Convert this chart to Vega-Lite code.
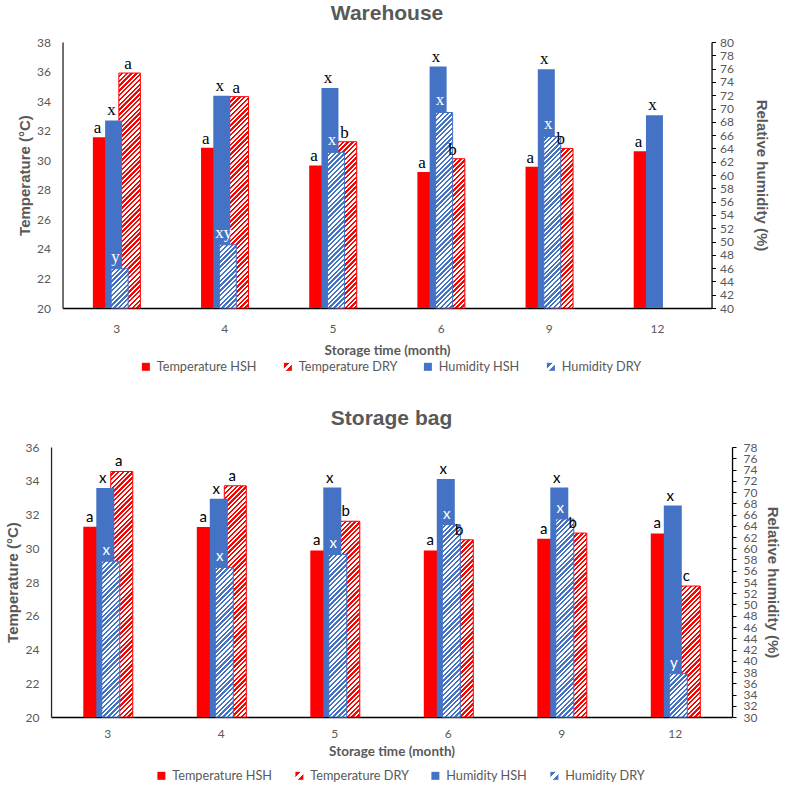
{
  "$schema": "https://vega.github.io/schema/vega-lite/v6.json",
  "background": "white",
  "padding": {"left": 5, "right": 5, "top": 3, "bottom": 0},
  "params": [
    {
      "name": "hatchStops",
      "value": [
        {"offset":0,"color":"#fff"},{"offset":0.008,"color":"#fff"},{"offset":0.008,"color":"#fff0"},{"offset":0.016,"color":"#fff0"},
        {"offset":0.016,"color":"#fff"},{"offset":0.024,"color":"#fff"},{"offset":0.024,"color":"#fff0"},{"offset":0.032,"color":"#fff0"},
        {"offset":0.032,"color":"#fff"},{"offset":0.04,"color":"#fff"},{"offset":0.04,"color":"#fff0"},{"offset":0.048,"color":"#fff0"},
        {"offset":0.048,"color":"#fff"},{"offset":0.056,"color":"#fff"},{"offset":0.056,"color":"#fff0"},{"offset":0.064,"color":"#fff0"},
        {"offset":0.064,"color":"#fff"},{"offset":0.072,"color":"#fff"},{"offset":0.072,"color":"#fff0"},{"offset":0.08,"color":"#fff0"},
        {"offset":0.08,"color":"#fff"},{"offset":0.088,"color":"#fff"},{"offset":0.088,"color":"#fff0"},{"offset":0.096,"color":"#fff0"},
        {"offset":0.096,"color":"#fff"},{"offset":0.104,"color":"#fff"},{"offset":0.104,"color":"#fff0"},{"offset":0.112,"color":"#fff0"},
        {"offset":0.112,"color":"#fff"},{"offset":0.12,"color":"#fff"},{"offset":0.12,"color":"#fff0"},{"offset":0.128,"color":"#fff0"},
        {"offset":0.128,"color":"#fff"},{"offset":0.136,"color":"#fff"},{"offset":0.136,"color":"#fff0"},{"offset":0.144,"color":"#fff0"},
        {"offset":0.144,"color":"#fff"},{"offset":0.152,"color":"#fff"},{"offset":0.152,"color":"#fff0"},{"offset":0.16,"color":"#fff0"},
        {"offset":0.16,"color":"#fff"},{"offset":0.168,"color":"#fff"},{"offset":0.168,"color":"#fff0"},{"offset":0.176,"color":"#fff0"},
        {"offset":0.176,"color":"#fff"},{"offset":0.184,"color":"#fff"},{"offset":0.184,"color":"#fff0"},{"offset":0.192,"color":"#fff0"},
        {"offset":0.192,"color":"#fff"},{"offset":0.2,"color":"#fff"},{"offset":0.2,"color":"#fff0"},{"offset":0.208,"color":"#fff0"},
        {"offset":0.208,"color":"#fff"},{"offset":0.216,"color":"#fff"},{"offset":0.216,"color":"#fff0"},{"offset":0.224,"color":"#fff0"},
        {"offset":0.224,"color":"#fff"},{"offset":0.232,"color":"#fff"},{"offset":0.232,"color":"#fff0"},{"offset":0.24,"color":"#fff0"},
        {"offset":0.24,"color":"#fff"},{"offset":0.248,"color":"#fff"},{"offset":0.248,"color":"#fff0"},{"offset":0.256,"color":"#fff0"},
        {"offset":0.256,"color":"#fff"},{"offset":0.264,"color":"#fff"},{"offset":0.264,"color":"#fff0"},{"offset":0.272,"color":"#fff0"},
        {"offset":0.272,"color":"#fff"},{"offset":0.28,"color":"#fff"},{"offset":0.28,"color":"#fff0"},{"offset":0.288,"color":"#fff0"},
        {"offset":0.288,"color":"#fff"},{"offset":0.296,"color":"#fff"},{"offset":0.296,"color":"#fff0"},{"offset":0.304,"color":"#fff0"},
        {"offset":0.304,"color":"#fff"},{"offset":0.312,"color":"#fff"},{"offset":0.312,"color":"#fff0"},{"offset":0.32,"color":"#fff0"},
        {"offset":0.32,"color":"#fff"},{"offset":0.328,"color":"#fff"},{"offset":0.328,"color":"#fff0"},{"offset":0.336,"color":"#fff0"},
        {"offset":0.336,"color":"#fff"},{"offset":0.344,"color":"#fff"},{"offset":0.344,"color":"#fff0"},{"offset":0.352,"color":"#fff0"},
        {"offset":0.352,"color":"#fff"},{"offset":0.36,"color":"#fff"},{"offset":0.36,"color":"#fff0"},{"offset":0.368,"color":"#fff0"},
        {"offset":0.368,"color":"#fff"},{"offset":0.376,"color":"#fff"},{"offset":0.376,"color":"#fff0"},{"offset":0.384,"color":"#fff0"},
        {"offset":0.384,"color":"#fff"},{"offset":0.392,"color":"#fff"},{"offset":0.392,"color":"#fff0"},{"offset":0.4,"color":"#fff0"},
        {"offset":0.4,"color":"#fff"},{"offset":0.408,"color":"#fff"},{"offset":0.408,"color":"#fff0"},{"offset":0.416,"color":"#fff0"},
        {"offset":0.416,"color":"#fff"},{"offset":0.424,"color":"#fff"},{"offset":0.424,"color":"#fff0"},{"offset":0.432,"color":"#fff0"},
        {"offset":0.432,"color":"#fff"},{"offset":0.44,"color":"#fff"},{"offset":0.44,"color":"#fff0"},{"offset":0.448,"color":"#fff0"},
        {"offset":0.448,"color":"#fff"},{"offset":0.456,"color":"#fff"},{"offset":0.456,"color":"#fff0"},{"offset":0.464,"color":"#fff0"},
        {"offset":0.464,"color":"#fff"},{"offset":0.472,"color":"#fff"},{"offset":0.472,"color":"#fff0"},{"offset":0.48,"color":"#fff0"},
        {"offset":0.48,"color":"#fff"},{"offset":0.488,"color":"#fff"},{"offset":0.488,"color":"#fff0"},{"offset":0.496,"color":"#fff0"},
        {"offset":0.496,"color":"#fff"},{"offset":0.504,"color":"#fff"},{"offset":0.504,"color":"#fff0"},{"offset":0.512,"color":"#fff0"},
        {"offset":0.512,"color":"#fff"},{"offset":0.52,"color":"#fff"},{"offset":0.52,"color":"#fff0"},{"offset":0.528,"color":"#fff0"},
        {"offset":0.528,"color":"#fff"},{"offset":0.536,"color":"#fff"},{"offset":0.536,"color":"#fff0"},{"offset":0.544,"color":"#fff0"},
        {"offset":0.544,"color":"#fff"},{"offset":0.552,"color":"#fff"},{"offset":0.552,"color":"#fff0"},{"offset":0.56,"color":"#fff0"},
        {"offset":0.56,"color":"#fff"},{"offset":0.568,"color":"#fff"},{"offset":0.568,"color":"#fff0"},{"offset":0.576,"color":"#fff0"},
        {"offset":0.576,"color":"#fff"},{"offset":0.584,"color":"#fff"},{"offset":0.584,"color":"#fff0"},{"offset":0.592,"color":"#fff0"},
        {"offset":0.592,"color":"#fff"},{"offset":0.6,"color":"#fff"},{"offset":0.6,"color":"#fff0"},{"offset":0.608,"color":"#fff0"},
        {"offset":0.608,"color":"#fff"},{"offset":0.616,"color":"#fff"},{"offset":0.616,"color":"#fff0"},{"offset":0.624,"color":"#fff0"},
        {"offset":0.624,"color":"#fff"},{"offset":0.632,"color":"#fff"},{"offset":0.632,"color":"#fff0"},{"offset":0.64,"color":"#fff0"},
        {"offset":0.64,"color":"#fff"},{"offset":0.648,"color":"#fff"},{"offset":0.648,"color":"#fff0"},{"offset":0.656,"color":"#fff0"},
        {"offset":0.656,"color":"#fff"},{"offset":0.664,"color":"#fff"},{"offset":0.664,"color":"#fff0"},{"offset":0.672,"color":"#fff0"},
        {"offset":0.672,"color":"#fff"},{"offset":0.68,"color":"#fff"},{"offset":0.68,"color":"#fff0"},{"offset":0.688,"color":"#fff0"},
        {"offset":0.688,"color":"#fff"},{"offset":0.696,"color":"#fff"},{"offset":0.696,"color":"#fff0"},{"offset":0.704,"color":"#fff0"},
        {"offset":0.704,"color":"#fff"},{"offset":0.712,"color":"#fff"},{"offset":0.712,"color":"#fff0"},{"offset":0.72,"color":"#fff0"},
        {"offset":0.72,"color":"#fff"},{"offset":0.728,"color":"#fff"},{"offset":0.728,"color":"#fff0"},{"offset":0.736,"color":"#fff0"},
        {"offset":0.736,"color":"#fff"},{"offset":0.744,"color":"#fff"},{"offset":0.744,"color":"#fff0"},{"offset":0.752,"color":"#fff0"},
        {"offset":0.752,"color":"#fff"},{"offset":0.76,"color":"#fff"},{"offset":0.76,"color":"#fff0"},{"offset":0.768,"color":"#fff0"},
        {"offset":0.768,"color":"#fff"},{"offset":0.776,"color":"#fff"},{"offset":0.776,"color":"#fff0"},{"offset":0.784,"color":"#fff0"},
        {"offset":0.784,"color":"#fff"},{"offset":0.792,"color":"#fff"},{"offset":0.792,"color":"#fff0"},{"offset":0.8,"color":"#fff0"},
        {"offset":0.8,"color":"#fff"},{"offset":0.808,"color":"#fff"},{"offset":0.808,"color":"#fff0"},{"offset":0.816,"color":"#fff0"},
        {"offset":0.816,"color":"#fff"},{"offset":0.824,"color":"#fff"},{"offset":0.824,"color":"#fff0"},{"offset":0.832,"color":"#fff0"},
        {"offset":0.832,"color":"#fff"},{"offset":0.84,"color":"#fff"},{"offset":0.84,"color":"#fff0"},{"offset":0.848,"color":"#fff0"},
        {"offset":0.848,"color":"#fff"},{"offset":0.856,"color":"#fff"},{"offset":0.856,"color":"#fff0"},{"offset":0.864,"color":"#fff0"},
        {"offset":0.864,"color":"#fff"},{"offset":0.872,"color":"#fff"},{"offset":0.872,"color":"#fff0"},{"offset":0.88,"color":"#fff0"},
        {"offset":0.88,"color":"#fff"},{"offset":0.888,"color":"#fff"},{"offset":0.888,"color":"#fff0"},{"offset":0.896,"color":"#fff0"},
        {"offset":0.896,"color":"#fff"},{"offset":0.904,"color":"#fff"},{"offset":0.904,"color":"#fff0"},{"offset":0.912,"color":"#fff0"},
        {"offset":0.912,"color":"#fff"},{"offset":0.92,"color":"#fff"},{"offset":0.92,"color":"#fff0"},{"offset":0.928,"color":"#fff0"},
        {"offset":0.928,"color":"#fff"},{"offset":0.936,"color":"#fff"},{"offset":0.936,"color":"#fff0"},{"offset":0.944,"color":"#fff0"},
        {"offset":0.944,"color":"#fff"},{"offset":0.952,"color":"#fff"},{"offset":0.952,"color":"#fff0"},{"offset":0.96,"color":"#fff0"},
        {"offset":0.96,"color":"#fff"},{"offset":0.968,"color":"#fff"},{"offset":0.968,"color":"#fff0"},{"offset":0.976,"color":"#fff0"},
        {"offset":0.976,"color":"#fff"},{"offset":0.984,"color":"#fff"},{"offset":0.984,"color":"#fff0"},{"offset":0.992,"color":"#fff0"}
      ]
    }
  ],
  "config": {
    "view": {"stroke": null},
    "font": "Lato",
    "axis": {
      "grid": false,
      "labelFont": "Lato",
      "labelFontSize": 12,
      "labelColor": "#595959",
      "titleFont": "Liberation Sans",
      "titleFontSize": 15,
      "titleFontWeight": "bold",
      "titleColor": "#595959"
    }
  },
  "datasets": {
    "bars": [
      {"p":"Warehouse","m":"3","s":"Temperature HSH","v":31.55,"l":"a"},
      {"p":"Warehouse","m":"3","s":"Temperature DRY","v":35.9,"l":"a"},
      {"p":"Warehouse","m":"3","s":"Humidity HSH","v":68.2,"l":"x"},
      {"p":"Warehouse","m":"3","s":"Humidity DRY","v":45.9,"l":"y"},
      {"p":"Warehouse","m":"4","s":"Temperature HSH","v":30.85,"l":"a"},
      {"p":"Warehouse","m":"4","s":"Temperature DRY","v":34.3,"l":"a"},
      {"p":"Warehouse","m":"4","s":"Humidity HSH","v":71.9,"l":"x"},
      {"p":"Warehouse","m":"4","s":"Humidity DRY","v":49.5,"l":"xy"},
      {"p":"Warehouse","m":"5","s":"Temperature HSH","v":29.65,"l":"a"},
      {"p":"Warehouse","m":"5","s":"Temperature DRY","v":31.25,"l":"b"},
      {"p":"Warehouse","m":"5","s":"Humidity HSH","v":73.1,"l":"x"},
      {"p":"Warehouse","m":"5","s":"Humidity DRY","v":63.4,"l":"x"},
      {"p":"Warehouse","m":"6","s":"Temperature HSH","v":29.2,"l":"a"},
      {"p":"Warehouse","m":"6","s":"Temperature DRY","v":30.1,"l":"b"},
      {"p":"Warehouse","m":"6","s":"Humidity HSH","v":76.3,"l":"x"},
      {"p":"Warehouse","m":"6","s":"Humidity DRY","v":69.4,"l":"x"},
      {"p":"Warehouse","m":"9","s":"Temperature HSH","v":29.55,"l":"a"},
      {"p":"Warehouse","m":"9","s":"Temperature DRY","v":30.8,"l":"b"},
      {"p":"Warehouse","m":"9","s":"Humidity HSH","v":75.9,"l":"x"},
      {"p":"Warehouse","m":"9","s":"Humidity DRY","v":65.8,"l":"x"},
      {"p":"Warehouse","m":"12","s":"Temperature HSH","v":30.6,"l":"a"},
      {"p":"Warehouse","m":"12","s":"Humidity HSH","v":69.0,"l":"x"},
      {"p":"Storage bag","m":"3","s":"Temperature HSH","v":31.27,"l":"a"},
      {"p":"Storage bag","m":"3","s":"Temperature DRY","v":34.55,"l":"a"},
      {"p":"Storage bag","m":"3","s":"Humidity HSH","v":70.7,"l":"x"},
      {"p":"Storage bag","m":"3","s":"Humidity DRY","v":57.7,"l":"x"},
      {"p":"Storage bag","m":"4","s":"Temperature HSH","v":31.26,"l":"a"},
      {"p":"Storage bag","m":"4","s":"Temperature DRY","v":33.7,"l":"a"},
      {"p":"Storage bag","m":"4","s":"Humidity HSH","v":68.8,"l":"x"},
      {"p":"Storage bag","m":"4","s":"Humidity DRY","v":56.6,"l":"x"},
      {"p":"Storage bag","m":"5","s":"Temperature HSH","v":29.87,"l":"a"},
      {"p":"Storage bag","m":"5","s":"Temperature DRY","v":31.6,"l":"b"},
      {"p":"Storage bag","m":"5","s":"Humidity HSH","v":70.8,"l":"x"},
      {"p":"Storage bag","m":"5","s":"Humidity DRY","v":58.9,"l":"x"},
      {"p":"Storage bag","m":"6","s":"Temperature HSH","v":29.87,"l":"a"},
      {"p":"Storage bag","m":"6","s":"Temperature DRY","v":30.5,"l":"b"},
      {"p":"Storage bag","m":"6","s":"Humidity HSH","v":72.3,"l":"x"},
      {"p":"Storage bag","m":"6","s":"Humidity DRY","v":64.2,"l":"x"},
      {"p":"Storage bag","m":"9","s":"Temperature HSH","v":30.56,"l":"a"},
      {"p":"Storage bag","m":"9","s":"Temperature DRY","v":30.9,"l":"b"},
      {"p":"Storage bag","m":"9","s":"Humidity HSH","v":70.8,"l":"x"},
      {"p":"Storage bag","m":"9","s":"Humidity DRY","v":65.2,"l":"x"},
      {"p":"Storage bag","m":"12","s":"Temperature HSH","v":30.88,"l":"a"},
      {"p":"Storage bag","m":"12","s":"Temperature DRY","v":27.76,"l":"c"},
      {"p":"Storage bag","m":"12","s":"Humidity HSH","v":67.6,"l":"x"},
      {"p":"Storage bag","m":"12","s":"Humidity DRY","v":37.7,"l":"y"}
    ]
  },
  "spacing": 34,
  "center": true,
  "resolve": {"scale": {"fill": "independent"}, "legend": {"fill": "independent"}},
  "vconcat": [
    {
      "title": {"text": "Warehouse", "font": "Liberation Sans", "fontSize": 21, "fontWeight": "bold", "color": "#595959", "anchor": "middle", "frame": "group", "offset": 12},
      "width": 649,
      "height": 266,
      "data": {"name": "bars"},
      "transform": [{"filter": "datum.p === 'Warehouse'"}],
      "encoding": {
        "x": {
          "field": "m", "type": "ordinal", "sort": ["3","4","5","6","9","12"],
          "scale": {"paddingInner": 0, "paddingOuter": 0},
          "axis": {"title": "Storage time (month)", "titleFont": "Lato", "titleFontSize": 13.5, "labelAngle": 0, "ticks": false, "domainColor": "#000", "domainWidth": 1.3, "labelPadding": 15, "titlePadding": 9}
        }
      },
      "layer": [
        {
          "encoding": {
            "y": {"field": "v", "type": "quantitative", "scale": {"domain": [20, 38], "nice": false, "zero": false},
                  "axis": {"orient": "left", "title": "Temperature (°C)", "values": [20,22,24,26,28,30,32,34,36,38], "ticks": false, "domainColor": "#262626", "domainWidth": 1.3, "labelPadding": 12, "titlePadding": 4, "labelOverlap": false}},
            "y2": {"datum": 20}
          },
          "layer": [
            {"transform": [{"filter": "datum.s === 'Temperature HSH'"}],
             "mark": {"type": "bar", "width": 21.5, "xOffset": -13},
             "encoding": {"fill": {"field": "s", "type": "nominal",
               "scale": {"domain": ["Temperature HSH","Temperature DRY","Humidity HSH","Humidity DRY"],
                         "range": ["#FF0000",
                                   {"expr": "{gradient: 'linear', x1: 0, y1: 0, x2: 1, y2: 1, stops: [{offset: 0, color: '#FF0000'}, {offset: 0.36, color: '#FF0000'}, {offset: 0.36, color: '#fff'}, {offset: 0.64, color: '#fff'}, {offset: 0.64, color: '#FF0000'}, {offset: 1, color: '#FF0000'}]}"},
                                   "#4472C4",
                                   {"expr": "{gradient: 'linear', x1: 0, y1: 0, x2: 1, y2: 1, stops: [{offset: 0, color: '#4472C4'}, {offset: 0.36, color: '#4472C4'}, {offset: 0.36, color: '#fff'}, {offset: 0.64, color: '#fff'}, {offset: 0.64, color: '#4472C4'}, {offset: 1, color: '#4472C4'}]}"}]},
               "legend": {"orient": "none", "legendX": 77, "legendY": 318, "direction": "horizontal", "gridAlign": "each", "title": null, "symbolType": "square", "symbolSize": 64, "symbolStrokeWidth": 0, "labelFont": "Lato", "labelFontSize": 12.7, "labelColor": "#595959", "labelOffset": 4.5, "columnPadding": 24}}}},
            {"transform": [{"filter": "datum.s === 'Temperature DRY'"}],
             "mark": {"type": "bar", "width": 21.5, "xOffset": 13, "fill": "#FF0000"}},
            {"transform": [{"filter": "datum.s === 'Temperature DRY'"}],
             "mark": {"type": "bar", "width": 21.5, "xOffset": 13, "stroke": "#FF0000", "strokeWidth": 1,
               "fill": {"expr": "{gradient: 'linear', x1: 0, y1: 0, x2: 300 * 21.5 / (462.25 + pow((datum.v - 20) * 14.778, 2)), y2: 300 * (datum.v - 20) * 14.778 / (462.25 + pow((datum.v - 20) * 14.778, 2)), stops: hatchStops}"}}}
          ]
        },
        {
          "encoding": {
            "y": {"field": "v", "type": "quantitative", "scale": {"domain": [40, 80], "nice": false, "zero": false},
                  "axis": {"orient": "right", "title": "Relative humidity (%)", "values": [40,42,44,46,48,50,52,54,56,58,60,62,64,66,68,70,72,74,76,78,80], "ticks": true, "tickSize": 4, "tickColor": "#000", "domainColor": "#000", "domainWidth": 1.3, "labelPadding": 4, "titlePadding": 20, "labelOverlap": false}},
            "y2": {"datum": 40}
          },
          "layer": [
            {"transform": [{"filter": "datum.s === 'Humidity HSH'"}],
             "mark": {"type": "bar", "width": 17, "xOffset": -3},
             "encoding": {"fill": {"field": "s", "type": "nominal"}}},
            {"transform": [{"filter": "datum.s === 'Humidity DRY'"}],
             "mark": {"type": "bar", "width": 17, "xOffset": 3, "fill": "#4472C4"}},
            {"transform": [{"filter": "datum.s === 'Humidity DRY'"}],
             "mark": {"type": "bar", "width": 17, "xOffset": 3, "stroke": "#4472C4", "strokeWidth": 1,
               "fill": {"expr": "{gradient: 'linear', x1: 0, y1: 0, x2: 300 * 17 / (289 + pow((datum.v - 40) * 6.65, 2)), y2: 300 * (datum.v - 40) * 6.65 / (289 + pow((datum.v - 40) * 6.65, 2)), stops: hatchStops}"}}}
          ]
        },
        {
          "encoding": {
            "y": {"field": "v", "type": "quantitative", "scale": {"domain": [20, 38], "nice": false, "zero": false}, "axis": null},
            "text": {"field": "l"}
          },
          "layer": [
            {"transform": [{"filter": "datum.s === 'Temperature HSH'"}],
             "mark": {"type": "text", "dx": -19, "dy": -4, "baseline": "alphabetic", "font": "Liberation Serif", "fontSize": 17, "color": "#000"}},
            {"transform": [{"filter": "datum.s === 'Temperature DRY'"}],
             "mark": {"type": "text", "dx": 11.5, "dy": -4, "baseline": "alphabetic", "font": "Liberation Serif", "fontSize": 17, "color": "#000"}}
          ]
        },
        {
          "encoding": {
            "y": {"field": "v", "type": "quantitative", "scale": {"domain": [40, 80], "nice": false, "zero": false}, "axis": null},
            "text": {"field": "l"}
          },
          "layer": [
            {"transform": [{"filter": "datum.s === 'Humidity HSH'"}],
             "mark": {"type": "text", "dx": -5, "dy": -5, "baseline": "alphabetic", "font": "Liberation Serif", "fontSize": 17, "color": "#000"}},
            {"transform": [{"filter": "datum.s === 'Humidity DRY'"}],
             "mark": {"type": "text", "dx": -1, "dy": -7, "baseline": "alphabetic", "font": "Liberation Serif", "fontSize": 17, "color": "#fff"}}
          ]
        }
      ],
      "resolve": {"scale": {"y": "independent"}}
    },
    {
      "title": {"text": "Storage bag", "font": "Liberation Sans", "fontSize": 21, "fontWeight": "bold", "color": "#595959", "anchor": "middle", "frame": "group", "offset": 12},
      "width": 681,
      "height": 270,
      "data": {"name": "bars"},
      "transform": [{"filter": "datum.p === 'Storage bag'"}],
      "encoding": {
        "x": {
          "field": "m", "type": "ordinal", "sort": ["3","4","5","6","9","12"],
          "scale": {"paddingInner": 0, "paddingOuter": 0},
          "axis": {"title": "Storage time (month)", "titleFont": "Lato", "titleFontSize": 13.5, "labelAngle": 0, "ticks": false, "domainColor": "#000", "domainWidth": 1.3, "labelPadding": 11, "titlePadding": 5}
        }
      },
      "layer": [
        {
          "encoding": {
            "y": {"field": "v", "type": "quantitative", "scale": {"domain": [20, 36], "nice": false, "zero": false},
                  "axis": {"orient": "left", "title": "Temperature (°C)", "values": [20,22,24,26,28,30,32,34,36], "ticks": false, "domainColor": "#262626", "domainWidth": 1.3, "labelPadding": 12, "titlePadding": 5, "labelOverlap": false}},
            "y2": {"datum": 20}
          },
          "layer": [
            {"transform": [{"filter": "datum.s === 'Temperature HSH'"}],
             "mark": {"type": "bar", "width": 22, "xOffset": -13.5},
             "encoding": {"fill": {"field": "s", "type": "nominal",
               "scale": {"domain": ["Temperature HSH","Temperature DRY","Humidity HSH","Humidity DRY"],
                         "range": ["#FF0000",
                                   {"expr": "{gradient: 'linear', x1: 0, y1: 0, x2: 1, y2: 1, stops: [{offset: 0, color: '#FF0000'}, {offset: 0.36, color: '#FF0000'}, {offset: 0.36, color: '#fff'}, {offset: 0.64, color: '#fff'}, {offset: 0.64, color: '#FF0000'}, {offset: 1, color: '#FF0000'}]}"},
                                   "#4472C4",
                                   {"expr": "{gradient: 'linear', x1: 0, y1: 0, x2: 1, y2: 1, stops: [{offset: 0, color: '#4472C4'}, {offset: 0.36, color: '#4472C4'}, {offset: 0.36, color: '#fff'}, {offset: 0.64, color: '#fff'}, {offset: 0.64, color: '#4472C4'}, {offset: 1, color: '#4472C4'}]}"}]},
               "legend": {"orient": "none", "legendX": 104, "legendY": 322, "direction": "horizontal", "gridAlign": "each", "title": null, "symbolType": "square", "symbolSize": 64, "symbolStrokeWidth": 0, "labelFont": "Lato", "labelFontSize": 12.7, "labelColor": "#595959", "labelOffset": 4.5, "columnPadding": 20}}}},
            {"transform": [{"filter": "datum.s === 'Temperature DRY'"}],
             "mark": {"type": "bar", "width": 22, "xOffset": 14, "fill": "#FF0000"}},
            {"transform": [{"filter": "datum.s === 'Temperature DRY'"}],
             "mark": {"type": "bar", "width": 22, "xOffset": 14, "stroke": "#FF0000", "strokeWidth": 1,
               "fill": {"expr": "{gradient: 'linear', x1: 0, y1: 0, x2: 300 * 22 / (484 + pow((datum.v - 20) * 16.875, 2)), y2: 300 * (datum.v - 20) * 16.875 / (484 + pow((datum.v - 20) * 16.875, 2)), stops: hatchStops}"}}}
          ]
        },
        {
          "encoding": {
            "y": {"field": "v", "type": "quantitative", "scale": {"domain": [30, 78], "nice": false, "zero": false},
                  "axis": {"orient": "right", "title": "Relative humidity (%)", "values": [30,32,34,36,38,40,42,44,46,48,50,52,54,56,58,60,62,64,66,68,70,72,74,76,78], "ticks": true, "tickSize": 4, "tickColor": "#000", "domainColor": "#000", "domainWidth": 1.3, "labelPadding": 7, "titlePadding": 8, "labelOverlap": false}},
            "y2": {"datum": 30}
          },
          "layer": [
            {"transform": [{"filter": "datum.s === 'Humidity HSH'"}],
             "mark": {"type": "bar", "width": 18, "xOffset": -2.5},
             "encoding": {"fill": {"field": "s", "type": "nominal"}}},
            {"transform": [{"filter": "datum.s === 'Humidity DRY'"}],
             "mark": {"type": "bar", "width": 18, "xOffset": 3, "fill": "#4472C4"}},
            {"transform": [{"filter": "datum.s === 'Humidity DRY'"}],
             "mark": {"type": "bar", "width": 18, "xOffset": 3, "stroke": "#4472C4", "strokeWidth": 1,
               "fill": {"expr": "{gradient: 'linear', x1: 0, y1: 0, x2: 300 * 18 / (324 + pow((datum.v - 30) * 5.625, 2)), y2: 300 * (datum.v - 30) * 5.625 / (324 + pow((datum.v - 30) * 5.625, 2)), stops: hatchStops}"}}}
          ]
        },
        {
          "encoding": {
            "y": {"field": "v", "type": "quantitative", "scale": {"domain": [20, 36], "nice": false, "zero": false}, "axis": null},
            "text": {"field": "l"}
          },
          "layer": [
            {"transform": [{"filter": "datum.s === 'Temperature HSH'"}],
             "mark": {"type": "text", "dx": -18, "dy": -5, "baseline": "alphabetic", "font": "Lato", "fontSize": 15, "color": "#000"}},
            {"transform": [{"filter": "datum.s === 'Temperature DRY'"}],
             "mark": {"type": "text", "dx": 11, "dy": -5, "baseline": "alphabetic", "font": "Lato", "fontSize": 15, "color": "#000"}}
          ]
        },
        {
          "encoding": {
            "y": {"field": "v", "type": "quantitative", "scale": {"domain": [30, 78], "nice": false, "zero": false}, "axis": null},
            "text": {"field": "l"}
          },
          "layer": [
            {"transform": [{"filter": "datum.s === 'Humidity HSH'"}],
             "mark": {"type": "text", "dx": -5, "dy": -5, "baseline": "alphabetic", "font": "Lato", "fontSize": 15, "color": "#000"}},
            {"transform": [{"filter": "datum.s === 'Humidity DRY'"}],
             "mark": {"type": "text", "dx": -1.5, "dy": -6, "baseline": "alphabetic", "font": "Lato", "fontSize": 15, "color": "#fff"}}
          ]
        }
      ],
      "resolve": {"scale": {"y": "independent"}}
    }
  ]
}
